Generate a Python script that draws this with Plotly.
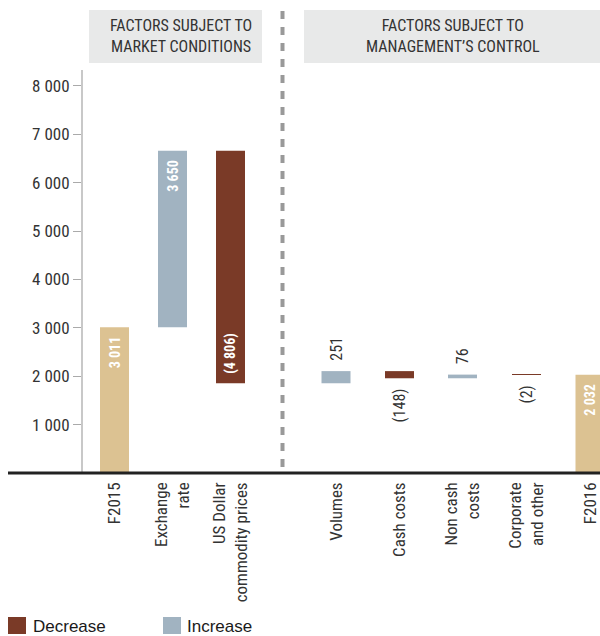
import plotly.graph_objects as go

# ---------------- data ----------------
categories = ["F2015", "Exchange<br>rate", "US Dollar<br>commodity prices",
              "Volumes", "Cash costs", "Non cash<br>costs",
              "Corporate<br>and other", "F2016"]
values = [3011, 3650, -4806, 251, -148, 76, -2, 2032]
measures = ["absolute", "relative", "relative", "relative",
            "relative", "relative", "relative", "total"]
y_ticks = [1000, 2000, 3000, 4000, 5000, 6000, 7000, 8000]

# ---------------- layout helpers ----------------
W, H = 600, 636
L, R, T, B = 83, 0, 70, 163
slot_x = [114.5, 172.5, 230.5, 336, 399.5, 462.5, 526.5, 590]  # bar centres (px)

TAN, BLUE, BROWN = "#dcc292", "#a1b3c1", "#7a3a27"
FONT = "Liberation Sans Narrow, Arial Narrow, Roboto Condensed, sans-serif"
DARK = "#333333"
NB = "\u00a0"


def px_x(p):
    return (p - L) / (W - L - R)


def px_y(p):
    return (H - B - p) / (H - T - B)


def fmt(v):
    s = f"{abs(v):,}".replace(",", " ")
    return f"({s})" if v < 0 else s


positions = ["inside", "inside", "inside", "outside",
             "outside", "outside", "outside", "inside"]

# small gap between label and bar end (labels are rotated, so pad with spaces)
labels = []
for v, pos in zip(values, positions):
    s = fmt(v)
    if pos == "inside":
        s = NB * 2 + s if v < 0 else s + NB * 2
    else:
        s = s + NB * 2 if v < 0 else NB * 2 + s
    labels.append(s)

fig = go.Figure(go.Waterfall(
    x=slot_x,
    y=values,
    measure=measures,
    width=29,
    text=labels,
    textposition=positions,
    textangle=-90,
    insidetextanchor="end",
    constraintext="none",
    insidetextfont=dict(family=FONT, size=14, color="white", weight="bold"),
    outsidetextfont=dict(family=FONT, size=16, color=DARK),
    increasing=dict(marker=dict(color=BLUE)),
    decreasing=dict(marker=dict(color=BROWN)),
    totals=dict(marker=dict(color=TAN)),
    connector=dict(visible=False),
    cliponaxis=False,
    showlegend=False,
))

fig.update_layout(
    width=W, height=H,
    margin=dict(l=L, r=R, t=T, b=B),
    plot_bgcolor="white", paper_bgcolor="white",
    font=dict(family=FONT, color=DARK, size=16),
    separators=". ",
    xaxis=dict(
        range=[L, W - R], showgrid=False, zeroline=False, showline=False,
        tickmode="array", tickvals=slot_x, ticktext=categories,
        tickangle=-90, ticks="", ticklabelstandoff=5,
        tickfont=dict(size=17, color=DARK),
    ),
    yaxis=dict(
        range=[0, 8330], showgrid=False, zeroline=False,
        showline=True, linecolor="#c8c8c8", linewidth=2,
        tickmode="array", tickvals=y_ticks, tickformat=",d",
        ticks="outside", ticklen=8, tickcolor="#aaaaaa", tickwidth=1,
        tickfont=dict(size=17, color=DARK),
    ),
)

shapes = [
    # baseline
    dict(type="line", xref="paper", yref="paper", x0=px_x(8), x1=px_x(600),
         y0=0, y1=0, line=dict(color="#222222", width=3), layer="above"),
    # divider
    dict(type="line", xref="paper", yref="paper", x0=px_x(282.5), x1=px_x(282.5),
         y0=px_y(11), y1=px_y(470), line=dict(color="#999999", width=4, dash="8px,8px")),
    # header boxes
    dict(type="rect", xref="paper", yref="paper", x0=px_x(89), x1=px_x(262),
         y0=px_y(63), y1=px_y(10), fillcolor="#e8e9e9", line=dict(width=0)),
    dict(type="rect", xref="paper", yref="paper", x0=px_x(304), x1=px_x(600),
         y0=px_y(63), y1=px_y(10), fillcolor="#e8e9e9", line=dict(width=0)),
    # legend swatches
    dict(type="rect", xref="paper", yref="paper", x0=px_x(8), x1=px_x(26),
         y0=px_y(634), y1=px_y(617), fillcolor=BROWN, line=dict(width=0)),
    dict(type="rect", xref="paper", yref="paper", x0=px_x(163), x1=px_x(181),
         y0=px_y(634), y1=px_y(617), fillcolor=BLUE, line=dict(width=0)),
]
fig.update_layout(shapes=shapes)

annots = [
    dict(text="FACTORS SUBJECT TO<br>MARKET CONDITIONS", x=px_x(181), y=px_y(36.5)),
    dict(text="FACTORS SUBJECT TO<br>MANAGEMENT\u2019S CONTROL", x=px_x(453), y=px_y(36.5)),
]
for a in annots:
    fig.add_annotation(xref="paper", yref="paper", showarrow=False,
                       xanchor="center", yanchor="middle",
                       font=dict(size=16, color=DARK), **a)

for txt, xp in [("Decrease", 31), ("Increase", 185)]:
    fig.add_annotation(xref="paper", yref="paper", showarrow=False,
                       x=px_x(xp), y=px_y(626), xanchor="left", yanchor="middle",
                       text=txt,
                       font=dict(family="Liberation Sans, Arial, sans-serif",
                                 size=17, color="#1a1a1a"))

# page has a default 8px body margin; drop it so the figure sits at 0,0
fig.write_html("out.html", config={"displayModeBar": False},
               post_script="document.body.style.margin='0';")
